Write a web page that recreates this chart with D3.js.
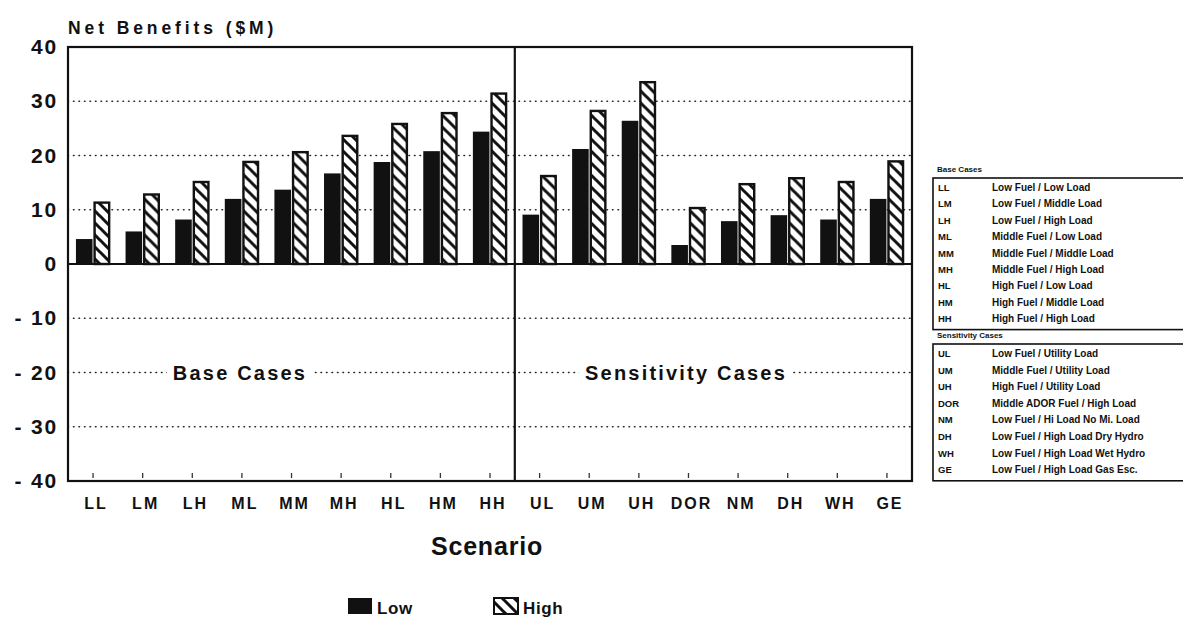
<!DOCTYPE html>
<html>
<head>
<meta charset="utf-8">
<script src="https://cdn.jsdelivr.net/npm/d3@7"></script>
<style>
	body { margin: 0; background: #fff; }
	svg text { font-family: "Liberation Sans", Arial, sans-serif; fill: #111; }
</style>
</head>
<body>
<div id="chart"></div>
<script>
// values ($M)
var categories = ["LL", "LM", "LH", "ML", "MM", "MH", "HL", "HM", "HH", "UL", "UM", "UH", "DOR", "NM", "DH", "WH", "GE"];
var lowValues  = [4.6, 6.0, 8.2, 12.0, 13.7, 16.7, 18.8, 20.8, 24.4, 9.1, 21.2, 26.4, 3.5, 7.9, 9.0, 8.2, 12.0];
var highValues = [11.5, 13.0, 15.3, 19.0, 20.8, 23.8, 26.0, 28.0, 31.6, 16.4, 28.4, 33.7, 10.5, 14.9, 16.0, 15.3, 19.1];
var yTicks = [40, 30, 20, 10, 0, -10, -20, -30, -40];
var gridTicks = [30, 20, 10, -10, -20, -30];
var series = ["Low", "High"];

var baseCodes = ["LL", "LM", "LH", "ML", "MM", "MH", "HL", "HM", "HH"];
var baseNames = ["Low Fuel / Low Load", "Low Fuel / Middle Load", "Low Fuel / High Load",
	"Middle Fuel / Low Load", "Middle Fuel / Middle Load", "Middle Fuel / High Load",
	"High Fuel / Low Load", "High Fuel / Middle Load", "High Fuel / High Load"];
var sensCodes = ["UL", "UM", "UH", "DOR", "NM", "DH", "WH", "GE"];
var sensNames = ["Low Fuel / Utility Load", "Middle Fuel / Utility Load", "High Fuel / Utility Load",
	"Middle ADOR Fuel / High Load", "Low Fuel / Hi Load No Mi. Load", "Low Fuel / High Load Dry Hydro",
	"Low Fuel / High Load Wet Hydro", "Low Fuel / High Load Gas Esc."];

var width = 1183, height = 622;
var frame = {left: 68, right: 912, top: 47, bottom: 481};

var svg = d3.select("#chart").append("svg")
	.attr("width", width)
	.attr("height", height);

// hatch for the High series
var defs = svg.append("defs");
defs.append("pattern")
	.attr("id", "hatch")
	.attr("patternUnits", "userSpaceOnUse")
	.attr("width", 12)
	.attr("height", 12)
	.call(function(p)
	{
		p.append("rect").attr("width", 12).attr("height", 12).attr("fill", "#fff");
		p.append("path")
			.attr("d", "M-2,-2 L14,14 M-2,10 L2,14 M10,-2 L14,2")
			.attr("stroke", "#111")
			.attr("stroke-width", 3);
	});

var x = d3.scaleBand()
	.domain(categories)
	.range([frame.left, frame.right])
	.paddingInner(0.31)
	.paddingOuter(0.16);

var xs = d3.scaleBand()
	.domain(series)
	.range([0, x.bandwidth()])
	.paddingInner(0.06);

var y = d3.scaleLinear()
	.domain([-40, 40])
	.range([frame.bottom, frame.top]);

// title
svg.append("text")
	.attr("x", 68)
	.attr("y", 34)
	.attr("font-size", 17.5)
	.attr("font-weight", "bold")
	.attr("letter-spacing", 3.9)
	.text("Net Benefits ($M)");

// dotted grid lines
svg.append("g")
	.selectAll("line")
	.data(gridTicks)
	.enter()
		.append("line")
			.attr("x1", frame.left)
			.attr("x2", frame.right)
			.attr("y1", function(d){ return y(d); })
			.attr("y2", function(d){ return y(d); })
			.attr("stroke", "#222")
			.attr("stroke-width", 1.6)
			.attr("stroke-linecap", "round")
			.attr("stroke-dasharray", "0.5,5");

// section labels sit on the -20 line with a white backing
var sections = [
	{text: "Base Cases", from: 0, to: 8},
	{text: "Sensitivity Cases", from: 9, to: 16}
];
var secLabels = svg.append("g")
	.selectAll("g")
	.data(sections)
	.enter()
		.append("g");

secLabels.append("rect")
	.attr("fill", "#fff");

secLabels.append("text")
	.attr("x", function(d){ return d.from == 0 ? 240 : 686; })
	.attr("y", y(-20) + 7)
	.attr("text-anchor", "middle")
	.attr("font-size", 20)
	.attr("font-weight", "bold")
	.attr("letter-spacing", 2.2)
	.text(function(d){ return d.text; });

secLabels.each(function()
{
	var g = d3.select(this);
	var b = g.select("text").node().getBBox();
	g.select("rect")
		.attr("x", b.x - 6)
		.attr("y", b.y)
		.attr("width", b.width + 12)
		.attr("height", b.height);
});

// bars
var groups = svg.append("g")
	.selectAll("g")
	.data(categories)
	.enter()
		.append("g")
			.attr("transform", function(d){ return "translate(" + x(d) + ",0)"; });

groups.append("rect")
	.attr("x", xs("Low"))
	.attr("y", function(d, i){ return y(lowValues[i]); })
	.attr("width", xs.bandwidth())
	.attr("height", function(d, i){ return y(0) - y(lowValues[i]); })
	.attr("fill", "#111");

groups.append("rect")
	.attr("x", xs("High") + 1)
	.attr("y", function(d, i){ return y(highValues[i]) + 1; })
	.attr("width", xs.bandwidth() - 2)
	.attr("height", function(d, i){ return y(0) - y(highValues[i]) - 1; })
	.attr("fill", "url(#hatch)")
	.attr("stroke", "#111")
	.attr("stroke-width", 2.4);

// zero line
svg.append("line")
	.attr("x1", frame.left)
	.attr("x2", frame.right)
	.attr("y1", y(0))
	.attr("y2", y(0))
	.attr("stroke", "#111")
	.attr("stroke-width", 2);

// frame and divider
svg.append("rect")
	.attr("x", frame.left)
	.attr("y", frame.top)
	.attr("width", frame.right - frame.left)
	.attr("height", frame.bottom - frame.top)
	.attr("fill", "none")
	.attr("stroke", "#111")
	.attr("stroke-width", 2.2);

var divX = (x("HH") + x.bandwidth() + x("UL")) / 2;
svg.append("line")
	.attr("x1", divX)
	.attr("x2", divX)
	.attr("y1", frame.top)
	.attr("y2", frame.bottom)
	.attr("stroke", "#111")
	.attr("stroke-width", 2.2);

// y axis
var yAxis = svg.append("g")
	.attr("transform", "translate(" + (frame.left - 10) + ",0)")
	.call(d3.axisLeft(y).tickValues(yTicks).tickSize(0).tickPadding(0)
		.tickFormat(function(d){ return d < 0 ? "- " + (-d) : d; }));
yAxis.select(".domain").remove();
yAxis.selectAll("text")
	.attr("font-size", 21)
	.attr("font-weight", "bold")
	.attr("letter-spacing", 1.8)
	.attr("font-family", "Liberation Sans, Arial, sans-serif")
	.attr("fill", "#111");

// x axis: small ticks inside the frame, labels below
var xAxis = svg.append("g")
	.attr("transform", "translate(0," + frame.bottom + ")")
	.call(d3.axisTop(x).tickSize(9).tickPadding(0).tickFormat(""));
xAxis.select(".domain").remove();
xAxis.selectAll(".tick line")
	.attr("stroke", "#333")
	.attr("stroke-width", 1.3)
	.attr("y2", -8)
	.attr("y1", -3);

svg.append("g")
	.selectAll("text")
	.data(categories)
	.enter()
		.append("text")
			.attr("x", function(d){ return x(d) + x.bandwidth() / 2 + 3; })
			.attr("y", 509)
			.attr("text-anchor", "middle")
			.attr("font-size", 16)
			.attr("font-weight", "bold")
			.attr("letter-spacing", 2)
			.text(function(d){ return d; });

svg.append("text")
	.attr("x", 487)
	.attr("y", 555)
	.attr("text-anchor", "middle")
	.attr("font-size", 25)
	.attr("letter-spacing", 0.8)
	.attr("font-weight", "bold")
	.text("Scenario");

// bottom legend
var legend = svg.append("g");
var legendItems = [{name: "Low", x: 348}, {name: "High", x: 494}];
legend.selectAll("rect")
	.data(legendItems)
	.enter()
		.append("rect")
			.attr("x", function(d){ return d.x; })
			.attr("y", 598)
			.attr("width", 24)
			.attr("height", 16)
			.attr("fill", function(d){ return d.name == "Low" ? "#111" : "url(#hatch)"; })
			.attr("stroke", "#111")
			.attr("stroke-width", function(d){ return d.name == "Low" ? 0 : 2; });
legend.selectAll("text")
	.data(legendItems)
	.enter()
		.append("text")
			.attr("x", function(d){ return d.x + 29; })
			.attr("y", 614)
			.attr("font-size", 17)
			.attr("font-weight", "bold")
			.attr("letter-spacing", 0.6)
			.text(function(d){ return d.name; });

// key boxes on the right
function drawKey(title, codes, names, top, rowH)
{
	var g = svg.append("g");
	var boxH = codes.length * rowH + 4;

	g.append("text")
		.attr("x", 937)
		.attr("y", top - 6)
		.attr("font-size", 8)
		.attr("font-weight", "bold")
		.text(title);

	g.append("rect")
		.attr("x", 933)
		.attr("y", top)
		.attr("width", 270)
		.attr("height", boxH)
		.attr("fill", "none")
		.attr("stroke", "#111")
		.attr("stroke-width", 1.6);

	var rows = g.selectAll("g")
		.data(codes)
		.enter()
			.append("g")
				.attr("transform", function(d, i){ return "translate(0," + (top + 13 + i * rowH) + ")"; });

	rows.append("text")
		.attr("x", 938)
		.attr("font-size", 9.5)
		.attr("font-weight", "bold")
		.text(function(d){ return d; });

	rows.append("text")
		.attr("x", 992)
		.attr("font-size", 10)
		.attr("font-weight", "bold")
		.text(function(d, i){ return names[i]; });
}

drawKey("Base Cases", baseCodes, baseNames, 178, 16.4);
drawKey("Sensitivity Cases", sensCodes, sensNames, 344, 16.6);
</script>
</body>
</html>
